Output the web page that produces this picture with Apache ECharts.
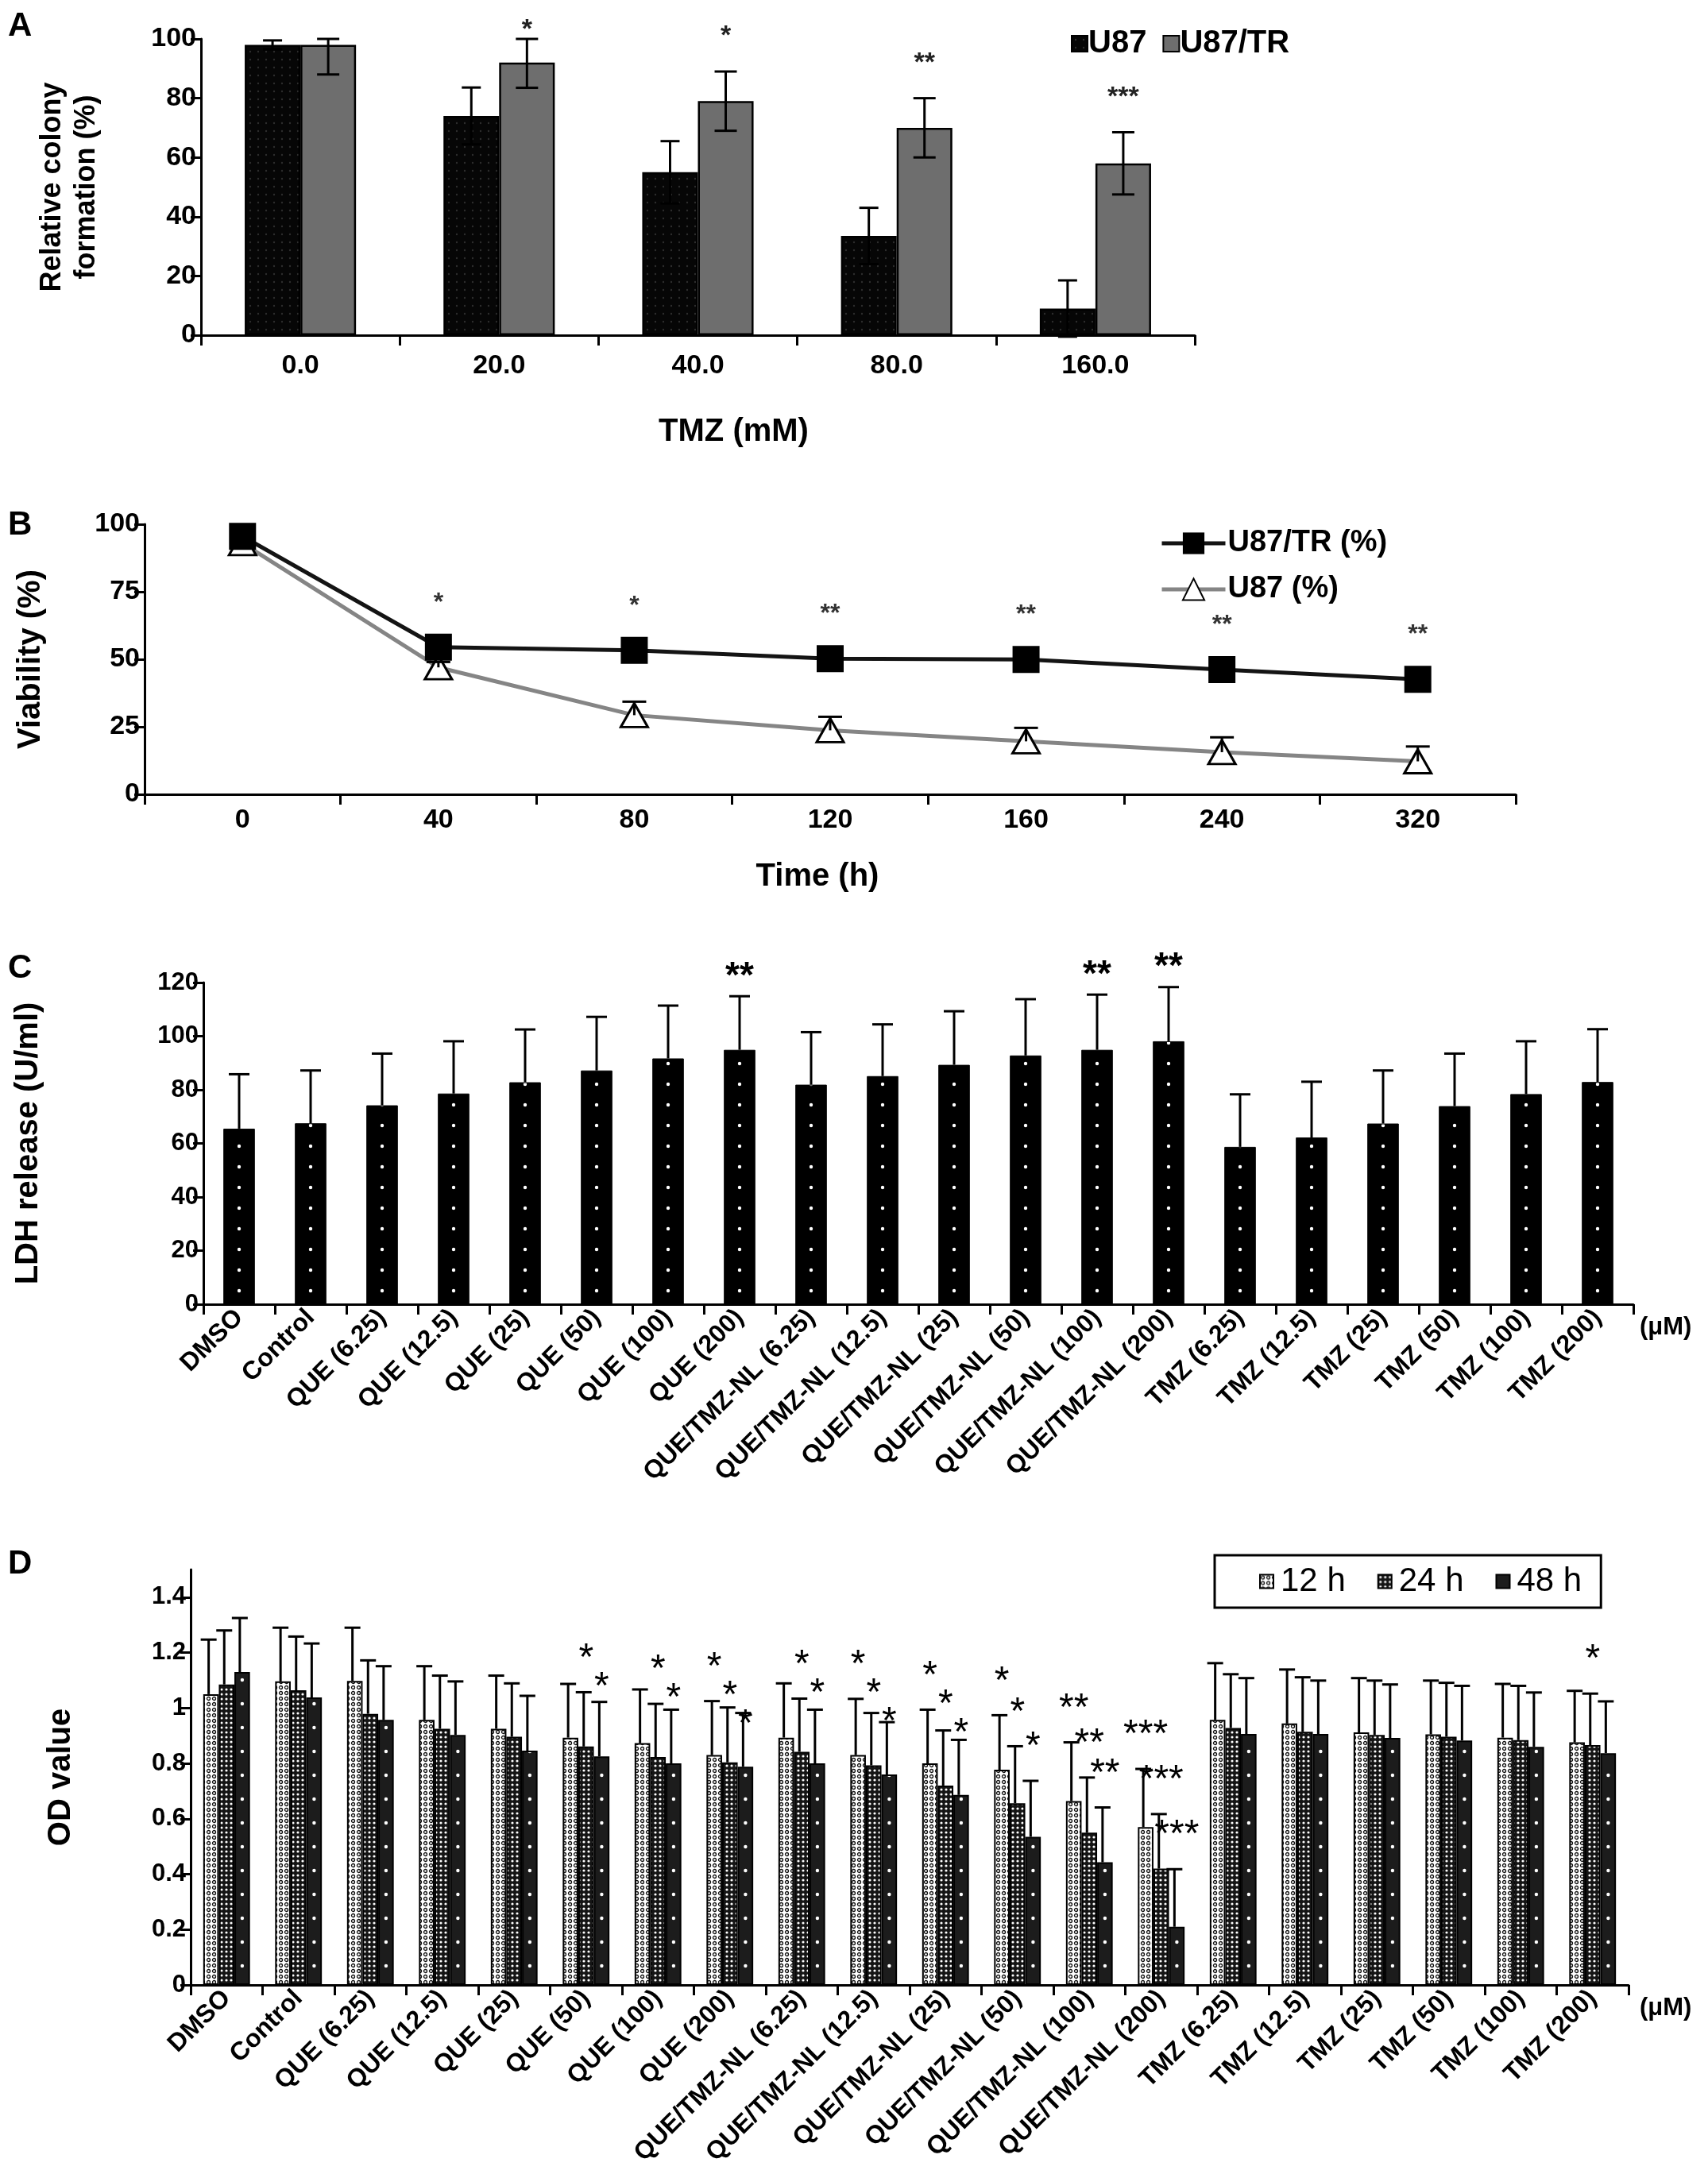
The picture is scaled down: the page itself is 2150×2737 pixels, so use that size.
<!DOCTYPE html>
<html>
<head>
<meta charset="utf-8">
<script src="https://cdn.jsdelivr.net/npm/echarts@6/dist/echarts.min.js"></script>
<style>
  html, body { margin: 0; padding: 0; background: #fff; }
  #chart { width: 2150px; height: 2737px; }
</style>
</head>
<body>
<div id="chart"></div>
<script>
// ---- panel A: colony formation ----
const doseLabels = ['0.0', '20.0', '40.0', '80.0', '160.0'];
const colonyU87 = [98, 74, 55, 33.5, 9];
const colonyU87Err = [1.5, 9.6, 10.5, 9.5, 9.5];
const colonyTR = [98, 92, 79, 70, 58];
const colonyTRErr = [10, 8.5, 10, 10, 10.5];
const colonyStars = ['', '*', '*', '**', '***'];

// ---- panel B: viability over time ----
const timeLabels = ['0', '40', '80', '120', '160', '240', '320'];
const viabTR = [95.5, 54.5, 53.3, 50.2, 49.9, 46.2, 42.6];
const viabU87 = [93, 47, 29.3, 23.7, 19.6, 15.6, 12.2];
const viabU87Err = [2, 2, 5, 5, 5, 5.5, 5.5];
const viabStars = ['', '*', '*', '**', '**', '**', '**'];

// ---- panels C and D share the treatment groups ----
const groups = [
  'DMSO', 'Control', 'QUE (6.25)', 'QUE (12.5)', 'QUE (25)', 'QUE (50)', 'QUE (100)', 'QUE (200)',
  'QUE/TMZ-NL (6.25)', 'QUE/TMZ-NL (12.5)', 'QUE/TMZ-NL (25)', 'QUE/TMZ-NL (50)',
  'QUE/TMZ-NL (100)', 'QUE/TMZ-NL (200)',
  'TMZ (6.25)', 'TMZ (12.5)', 'TMZ (25)', 'TMZ (50)', 'TMZ (100)', 'TMZ (200)'
];

// ---- panel C: LDH release ----
const ldh = [65.5, 67.5, 74.2, 78.6, 82.8, 87.2, 91.7, 94.9, 81.9, 85.1,
  89.3, 92.8, 94.9, 98.1, 58.7, 62.2, 67.4, 73.9, 78.4, 82.9];
const ldhErr = [20.3, 19.7, 19.3, 19.5, 19.7, 20, 19.7, 20, 19.6, 19.3,
  20, 21, 20.6, 20.2, 19.6, 20.8, 19.8, 19.6, 19.7, 19.7];
const ldhStars = ['', '', '', '', '', '', '', '**', '', '', '', '', '**', '**', '', '', '', '', '', ''];

// ---- panel D: OD value ----
const odTicks = [0, 0.2, 0.4, 0.6, 0.8, 1, 1.2, 1.4];
const od12 = [1.05, 1.096, 1.098, 0.957, 0.925, 0.893, 0.873, 0.83, 0.893, 0.83,
  0.8, 0.777, 0.664, 0.57, 0.957, 0.944, 0.912, 0.905, 0.893, 0.876];
const od12Err = [0.197, 0.194, 0.192, 0.194, 0.192, 0.194, 0.194, 0.195, 0.196, 0.203,
  0.194, 0.197, 0.212, 0.21, 0.205, 0.195, 0.196, 0.194, 0.194, 0.186];
const od24 = [1.085, 1.064, 0.979, 0.925, 0.896, 0.861, 0.823, 0.804, 0.842, 0.793,
  0.72, 0.656, 0.55, 0.42, 0.928, 0.914, 0.903, 0.896, 0.884, 0.866];
const od24Err = [0.195, 0.194, 0.193, 0.192, 0.193, 0.196, 0.192, 0.198, 0.192, 0.189,
  0.199, 0.206, 0.199, 0.197, 0.194, 0.197, 0.196, 0.195, 0.196, 0.186];
const od48 = [1.13, 1.038, 0.957, 0.903, 0.846, 0.825, 0.8, 0.788, 0.8, 0.76,
  0.686, 0.535, 0.443, 0.21, 0.906, 0.906, 0.892, 0.883, 0.86, 0.837];
const od48Err = [0.195, 0.195, 0.194, 0.193, 0.198, 0.197, 0.194, 0.194, 0.194, 0.189,
  0.199, 0.202, 0.198, 0.208, 0.202, 0.193, 0.193, 0.197, 0.196, 0.187];
const stars12 = ['', '', '', '', '', '', '', '*', '', '*', '*', '*', '**', '***', '', '', '', '', '', ''];
const stars24 = ['', '', '', '', '', '*', '*', '*', '*', '*', '*', '*', '**', '***', '', '', '', '', '', '*'];
const stars48 = ['', '', '', '', '', '*', '*', '*', '*', '*', '*', '*', '**', '***', '', '', '', '', '', ''];

const FONT = '"Liberation Sans", Arial, sans-serif';

// small canvas patterns for the textured bars
function pattern(w, h, bg, paint) {
  const c = document.createElement('canvas');
  c.width = w;
  c.height = h;
  const g = c.getContext('2d');
  g.fillStyle = bg;
  g.fillRect(0, 0, w, h);
  paint(g);
  return { image: c, repeat: 'repeat' };
}
function dot(g, x, y, r, color) {
  g.fillStyle = color;
  g.beginPath();
  g.arc(x, y, r, 0, Math.PI * 2);
  g.fill();
}

const patU87 = pattern(10, 10, '#060606', g => dot(g, 5, 5, 1.2, '#2e2e2e'));
const patLdh = pattern(180, 26, '#000', g => { dot(g, 31, 13, 2.2, '#fff'); dot(g, 121, 13, 2.2, '#fff'); });
const pat12 = pattern(7, 7, '#fff', g => {
  g.strokeStyle = '#111'; g.lineWidth = 1.3;
  g.beginPath(); g.arc(3.5, 3.5, 2, 0, Math.PI * 2); g.stroke();
});
const pat24 = pattern(6, 6, '#151515', g => dot(g, 3, 3, 1.6, '#fff'));
const pat48 = pattern(181, 30, '#1c1c1c', g => { dot(g, 33.4, 15, 2.2, '#fff'); dot(g, 123.9, 15, 2.2, '#fff'); });

const axisLineStyle = { show: true, lineStyle: { color: '#000', width: 3 } };
const axisTickStyle = { show: true, length: 13, lineStyle: { color: '#000', width: 3 } };
const labelStyle = { color: '#000', fontFamily: FONT, fontWeight: 'bold', fontSize: 34 };
const catLabelStyle = Object.assign({}, labelStyle, { fontSize: 32 });
const nameStyle = { color: '#000', fontFamily: FONT, fontWeight: 'bold', fontSize: 40 };

// error bars drawn through the axes; k = bar index inside group of n
function errorSeries(opt) {
  const vals = opt.values, errs = opt.errs;
  return {
    type: 'custom',
    xAxisIndex: opt.axis, yAxisIndex: opt.axis,
    z: 5, silent: true,
    data: vals.map((v, i) => [i, v, errs[i]]),
    renderItem: (params, api) => {
      const i = api.value(0), v = api.value(1), e = api.value(2);
      const band = api.size([1, 0])[0];
      const groupW = band * (1 - opt.gap);
      const barW = groupW / opt.n;
      const base = api.coord([i, v]);
      const x = base[0] - groupW / 2 + barW * (opt.k + 0.5) + (opt.shift || 0);
      const top = api.coord([i, Math.min(v + e, opt.clamp ?? Infinity)])[1];
      const bot = opt.both ? api.coord([i, v - e])[1] : base[1];
      const hw = opt.cap / 2;
      const st = { stroke: '#000', lineWidth: opt.width || 3 };
      const kids = [
        { type: 'line', shape: { x1: x, y1: bot, x2: x, y2: top }, style: st },
        { type: 'line', shape: { x1: x - hw, y1: top, x2: x + hw, y2: top }, style: st }
      ];
      if (opt.both) kids.push({ type: 'line', shape: { x1: x - hw, y1: bot, x2: x + hw, y2: bot }, style: st });
      return { type: 'group', children: kids };
    }
  };
}

// significance marks placed above the error cap of their bar
function starSeries(opt) {
  return {
    type: 'custom',
    xAxisIndex: opt.axis, yAxisIndex: opt.axis,
    z: 6, silent: true,
    data: opt.sets[0].stars.map((s, i) => [i, opt.sets[0].values[i]]),
    renderItem: (params, api) => {
      const i = api.value(0);
      const band = api.size([1, 0])[0];
      const groupW = band * (1 - opt.gap);
      const barW = groupW / opt.n;
      const cx = api.coord([i, 0])[0];
      const kids = [];
      let prevY = -Infinity;
      opt.sets.forEach(set => {
        const txt = set.stars[i];
        if (!txt) return;
        const x = cx - groupW / 2 + barW * (set.k + 0.5);
        const capV = set.values[i] + (set.errs ? set.errs[i] : 0);
        let y = api.coord([i, Math.min(capV, opt.clamp ?? Infinity)])[1] - opt.lift;
        if (opt.minY !== undefined) y = Math.max(y, opt.minY);
        if (opt.step) y = Math.max(y, prevY + opt.step);
        prevY = y;
        kids.push({
          type: 'text',
          style: {
            text: txt, x: x, y: y, align: 'center', verticalAlign: 'middle',
            font: opt.font, fill: opt.color || '#000'
          }
        });
      });
      return { type: 'group', children: kids };
    }
  };
}

const chart = echarts.init(document.getElementById('chart'), null, { renderer: 'canvas' });

const option = {
  animation: false,
  backgroundColor: '#fff',
  textStyle: { fontFamily: FONT },
  title: [
    { text: 'A', left: 10, top: 12 },
    { text: 'B', left: 10, top: 640 },
    { text: 'C', left: 10, top: 1198 },
    { text: 'D', left: 10, top: 1948 }
  ].map(t => Object.assign(t, { padding: 0, textStyle: { fontFamily: FONT, fontWeight: 'bold', fontSize: 42, color: '#000' } })),
  legend: [
    {
      data: ['U87', 'U87/TR'],
      left: 1343, top: 30, itemGap: 20, itemWidth: 20, itemHeight: 20, icon: 'rect',
      itemStyle: { borderColor: '#000', borderWidth: 2 },
      textStyle: { fontFamily: FONT, fontWeight: 'bold', fontSize: 40, color: '#000', padding: [0, 0, 0, -4] }
    },
    {
      data: ['U87/TR (%)', 'U87 (%)'],
      orient: 'vertical', left: 1455, top: 660, itemGap: 20, itemWidth: 80, itemHeight: 34,
      lineStyle: { width: 5 },
      textStyle: { fontFamily: FONT, fontWeight: 'bold', fontSize: 38, color: '#000', padding: [0, 0, 0, -2] }
    },
    {
      data: ['12 h', '24 h', '48 h'],
      left: 1529, top: 1958, padding: [12, 24, 12, 56], itemGap: 40, itemWidth: 17, itemHeight: 17,
      icon: 'rect', borderColor: '#000', borderWidth: 3,
      itemStyle: { borderColor: '#000', borderWidth: 2 },
      textStyle: { fontFamily: FONT, fontSize: 42, color: '#000', padding: [0, 0, 0, 4] }
    }
  ],
  grid: [
    { left: 253, top: 49, width: 1251, height: 373 },
    { left: 182, top: 660, width: 1726, height: 340 },
    { left: 256, top: 1237, width: 1800, height: 405 },
    { left: 240, top: 1976, width: 1810, height: 523 }
  ].map(g => Object.assign(g, { containLabel: false, outerBoundsMode: 'none' })),
  xAxis: [
    {
      gridIndex: 0, type: 'category', data: doseLabels,
      axisLine: axisLineStyle, axisTick: axisTickStyle,
      axisLabel: Object.assign({ margin: 22 }, labelStyle),
      name: 'TMZ (mM)', nameLocation: 'middle', nameGap: 102,
      nameTextStyle: Object.assign({ padding: [0, 0, 0, 90] }, nameStyle)
    },
    {
      gridIndex: 1, type: 'category', data: timeLabels,
      axisLine: axisLineStyle, axisTick: axisTickStyle,
      axisLabel: Object.assign({ margin: 16 }, labelStyle),
      name: 'Time (h)', nameLocation: 'middle', nameGap: 84,
      nameTextStyle: Object.assign({ padding: [0, 32, 0, 0] }, nameStyle)
    },
    {
      gridIndex: 2, type: 'category', data: groups,
      axisLine: axisLineStyle, axisTick: axisTickStyle,
      axisLabel: Object.assign({ interval: 0, rotate: 45, margin: 12 }, catLabelStyle),
      name: '(μM)', nameLocation: 'end', nameGap: 8,
      nameTextStyle: Object.assign({}, catLabelStyle, { fontSize: 31, verticalAlign: 'top', padding: [14, 0, 0, 0] })
    },
    {
      gridIndex: 3, type: 'category', data: groups,
      axisLine: axisLineStyle, axisTick: axisTickStyle,
      axisLabel: Object.assign({ interval: 0, rotate: 45, margin: 12 }, catLabelStyle),
      name: '(μM)', nameLocation: 'end', nameGap: 14,
      nameTextStyle: Object.assign({}, catLabelStyle, { fontSize: 31, verticalAlign: 'top', padding: [14, 0, 0, 0] })
    }
  ],
  yAxis: [
    {
      gridIndex: 0, type: 'value', min: 0, max: 100, interval: 20,
      axisLine: axisLineStyle, axisTick: axisTickStyle, splitLine: { show: false },
      axisLabel: Object.assign({ margin: 6 }, labelStyle),
      name: 'Relative colony\nformation (%)', nameLocation: 'middle', nameGap: 122,
      nameTextStyle: Object.assign({}, nameStyle, { fontSize: 36, lineHeight: 43 })
    },
    {
      gridIndex: 1, type: 'value', min: 0, max: 100, interval: 25,
      axisLine: axisLineStyle, axisTick: axisTickStyle, splitLine: { show: false },
      axisLabel: Object.assign({ margin: 6 }, labelStyle),
      name: 'Viability (%)', nameLocation: 'middle', nameGap: 123, nameTextStyle: nameStyle
    },
    {
      gridIndex: 2, type: 'value', min: 0, max: 120, interval: 20,
      axisLine: axisLineStyle, axisTick: axisTickStyle, splitLine: { show: false },
      axisLabel: Object.assign({ margin: 6 }, labelStyle, { fontSize: 31 }),
      name: 'LDH release (U/ml)', nameLocation: 'middle', nameGap: 200, nameTextStyle: nameStyle
    },
    {
      gridIndex: 3, type: 'value', min: 0, max: 1.5,
      axisLine: axisLineStyle, splitLine: { show: false },
      axisTick: Object.assign({ customValues: odTicks }, axisTickStyle),
      axisLabel: Object.assign({ margin: 6, customValues: odTicks, formatter: v => String(v) }, labelStyle, { fontSize: 31 }),
      name: 'OD value', nameLocation: 'middle', nameGap: 143, nameTextStyle: nameStyle
    }
  ],
  series: [
    // A
    {
      name: 'U87', type: 'bar', xAxisIndex: 0, yAxisIndex: 0, data: colonyU87,
      barGap: '0%', barCategoryGap: '44%',
      itemStyle: { color: patU87, borderColor: '#000', borderWidth: 2.5 }
    },
    {
      name: 'U87/TR', type: 'bar', xAxisIndex: 0, yAxisIndex: 0, data: colonyTR,
      barGap: '0%', barCategoryGap: '44%',
      itemStyle: { color: '#6e6e6e', borderColor: '#000', borderWidth: 2.5 }
    },
    errorSeries({ axis: 0, values: colonyU87, errs: colonyU87Err, k: 0, n: 2, gap: 0.44, cap: 24, both: true, clamp: 100 }),
    errorSeries({ axis: 0, values: colonyTR, errs: colonyTRErr, k: 1, n: 2, gap: 0.44, cap: 28, both: true, clamp: 100 }),
    starSeries({
      axis: 0, n: 2, gap: 0.44, lift: 44, minY: 38, clamp: 100, font: 'bold 34px ' + FONT, color: '#222',
      sets: [{ k: 1, values: colonyTR, errs: colonyTRErr, stars: colonyStars }]
    }),
    // B
    errorSeries({ axis: 1, values: viabU87, errs: viabU87Err, k: 0, n: 1, gap: 0.5, cap: 30, both: false, width: 3 }),
    {
      name: 'U87 (%)', type: 'line', xAxisIndex: 1, yAxisIndex: 1, data: viabU87,
      symbol: 'triangle', symbolSize: [34, 30],
      lineStyle: { color: '#858585', width: 5 },
      itemStyle: { color: '#fff', borderColor: '#000', borderWidth: 3 }, z: 3
    },
    {
      name: 'U87/TR (%)', type: 'line', xAxisIndex: 1, yAxisIndex: 1, data: viabTR,
      symbol: 'rect', symbolSize: 34,
      lineStyle: { color: '#141414', width: 5 },
      itemStyle: { color: '#000', borderColor: '#000', borderWidth: 0 }, z: 4
    },
    starSeries({
      axis: 1, n: 1, gap: 0.5, lift: 56, font: 'bold 32px ' + FONT, color: '#333',
      sets: [{ k: 0, values: viabTR, stars: viabStars }]
    }),
    // C
    {
      name: 'LDH', type: 'bar', xAxisIndex: 2, yAxisIndex: 2, data: ldh,
      barCategoryGap: '56%',
      itemStyle: { color: patLdh, borderColor: '#000', borderWidth: 1 }
    },
    errorSeries({ axis: 2, values: ldh, errs: ldhErr, k: 0, n: 1, gap: 0.56, cap: 26, both: false }),
    starSeries({
      axis: 2, n: 1, gap: 0.56, lift: 24, font: 'bold 46px ' + FONT,
      sets: [{ k: 0, values: ldh, errs: ldhErr, stars: ldhStars }]
    }),
    // D
    {
      name: '12 h', type: 'bar', xAxisIndex: 3, yAxisIndex: 3, data: od12,
      barGap: '0%', barCategoryGap: '35%',
      itemStyle: { color: pat12, borderColor: '#000', borderWidth: 2 }
    },
    {
      name: '24 h', type: 'bar', xAxisIndex: 3, yAxisIndex: 3, data: od24,
      barGap: '0%', barCategoryGap: '35%',
      itemStyle: { color: pat24, borderColor: '#000', borderWidth: 2 }
    },
    {
      name: '48 h', type: 'bar', xAxisIndex: 3, yAxisIndex: 3, data: od48,
      barGap: '0%', barCategoryGap: '35%',
      itemStyle: { color: pat48, borderColor: '#000', borderWidth: 2 }
    },
    errorSeries({ axis: 3, values: od12, errs: od12Err, k: 0, n: 3, gap: 0.35, cap: 20, both: false, shift: -3 }),
    errorSeries({ axis: 3, values: od24, errs: od24Err, k: 1, n: 3, gap: 0.35, cap: 20, both: false, shift: -3 }),
    errorSeries({ axis: 3, values: od48, errs: od48Err, k: 2, n: 3, gap: 0.35, cap: 20, both: false, shift: -3 }),
    starSeries({
      axis: 3, n: 3, gap: 0.35, lift: 42, step: 36, font: '48px ' + FONT,
      sets: [
        { k: 0, values: od12, errs: od12Err, stars: stars12 },
        { k: 1, values: od24, errs: od24Err, stars: stars24 },
        { k: 2, values: od48, errs: od48Err, stars: stars48 }
      ]
    })
  ]
};

chart.setOption(option);
</script>
</body>
</html>
